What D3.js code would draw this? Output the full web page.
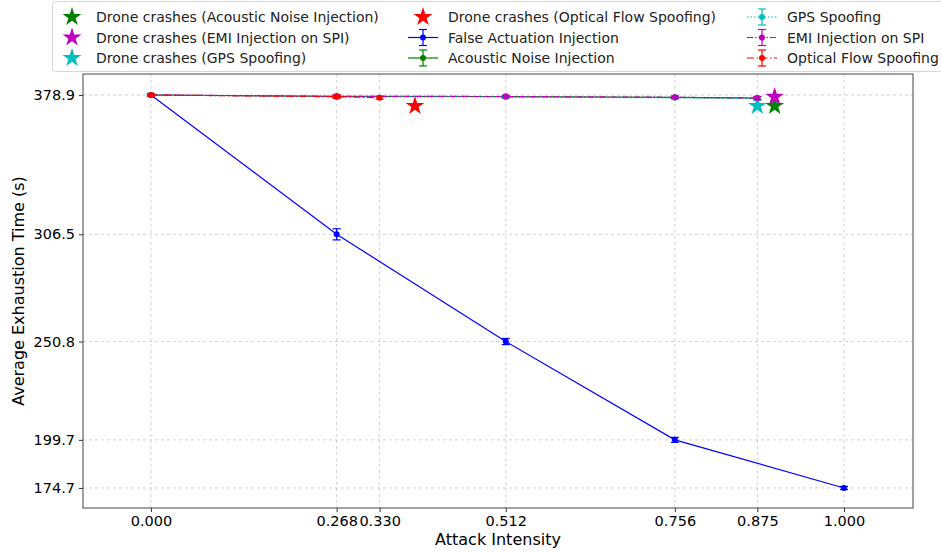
<!DOCTYPE html>
<html>
<head>
<meta charset="utf-8">
<script src="https://cdn.jsdelivr.net/npm/d3@7"></script>
<style>
  html, body { margin: 0; padding: 0; background: #fff; }
  svg { display: block; font-family: "DejaVu Sans", sans-serif; }
</style>
</head>
<body>
<svg id="chart" width="941" height="552"></svg>
<script>
// Attack intensity levels used on the x axis
const xTicks = [0.000, 0.268, 0.330, 0.512, 0.756, 0.875, 1.000];
const yTicks = [378.9, 306.5, 250.8, 199.7, 174.7];

// Average exhaustion time (s) per attack, with standard error
const falseActX = [0.000, 0.268, 0.512, 0.756, 1.000];
const falseActY = [378.9, 306.5, 250.8, 199.7, 174.7];
const falseActErr = [0.6, 2.9, 1.6, 1.3, 0.8];

const acousticX = [0.000, 0.268, 0.512, 0.756, 0.875];
const acousticY = [378.9, 378.2, 378.1, 377.7, 377.3];
const acousticErr = [0.5, 0.7, 0.6, 0.6, 0.8];

const gpsX = [0.000, 0.268, 0.512, 0.756, 0.875];
const gpsY = [378.9, 378.0, 377.8, 377.4, 377.0];
const gpsErr = [0.5, 0.7, 0.6, 0.6, 0.8];

const emiX = [0.000, 0.268, 0.512, 0.756, 0.875];
const emiY = [378.9, 378.2, 378.1, 377.7, 377.3];
const emiErr = [0.5, 0.7, 0.6, 0.6, 0.8];

const opticalX = [0.000, 0.268, 0.330];
const opticalY = [378.9, 378.0, 377.5];
const opticalErr = [0.6, 0.8, 0.8];

// Points where the drone crashed under each attack
const crashAcoustic = [0.900, 373.2];
const crashEmi = [0.900, 377.9];
const crashGps = [0.875, 373.2];
const crashOptical = [0.381, 373.2];

const svg = d3.select("#chart");
const plot = { left: 83, right: 913, top: 74, bottom: 508 };

const x = d3.scaleLinear().domain([-0.098, 1.0996]).range([plot.left, plot.right]);
const y = d3.scaleLinear().domain([164.3, 389.8]).range([plot.bottom, plot.top]);

// grid
const grid = svg.append("g");
grid.selectAll("line.gx").data(xTicks).enter().append("line")
  .attr("x1", d => x(d)).attr("x2", d => x(d))
  .attr("y1", plot.top).attr("y2", plot.bottom)
  .attr("stroke", "#b0b0b0").attr("stroke-width", 0.8)
  .attr("stroke-dasharray", "3,3").attr("opacity", 0.7);
grid.selectAll("line.gy").data(yTicks).enter().append("line")
  .attr("x1", plot.left).attr("x2", plot.right)
  .attr("y1", d => y(d)).attr("y2", d => y(d))
  .attr("stroke", "#b0b0b0").attr("stroke-width", 0.8)
  .attr("stroke-dasharray", "3,3").attr("opacity", 0.7);

// axes
const xAxis = d3.axisBottom(x).tickValues(xTicks).tickFormat(d3.format(".3f")).tickSize(4).tickPadding(4);
const yAxis = d3.axisLeft(y).tickValues(yTicks).tickFormat(d3.format(".1f")).tickSize(4).tickPadding(4);

const gx = svg.append("g").attr("transform", `translate(0,${plot.bottom})`).call(xAxis);
const gy = svg.append("g").attr("transform", `translate(${plot.left},0)`).call(yAxis);
[gx, gy].forEach(g => {
  g.select(".domain").remove();
  g.selectAll("text").attr("font-size", 14.5).attr("fill", "#000").attr("font-family", "DejaVu Sans");
  g.selectAll("line").attr("stroke", "#333");
});

// plot frame
svg.append("rect")
  .attr("x", plot.left).attr("y", plot.top)
  .attr("width", plot.right - plot.left).attr("height", plot.bottom - plot.top)
  .attr("fill", "none").attr("stroke", "#444").attr("stroke-width", 1);

// axis titles
svg.append("text").attr("x", (plot.left + plot.right) / 2).attr("y", 545)
  .attr("text-anchor", "middle").attr("font-size", 16).text("Attack Intensity");
svg.append("text")
  .attr("transform", `translate(24,${(plot.top + plot.bottom) / 2}) rotate(-90)`)
  .attr("text-anchor", "middle").attr("font-size", 16).text("Average Exhaustion Time (s)");

const series = [
  { name: "False Actuation Injection", xs: falseActX, ys: falseActY, err: falseActErr, color: "#0000ff", dash: null },
  { name: "Acoustic Noise Injection", xs: acousticX, ys: acousticY, err: acousticErr, color: "#008000", dash: null },
  { name: "GPS Spoofing", xs: gpsX, ys: gpsY, err: gpsErr, color: "#00bfbf", dash: "1.5,2" },
  { name: "EMI Injection on SPI", xs: emiX, ys: emiY, err: emiErr, color: "#bf00bf", dash: "6,2,1.5,2" },
  { name: "Optical Flow Spoofing", xs: opticalX, ys: opticalY, err: opticalErr, color: "#ff0000", dash: "7,2.5,1.5,2.5" }
];

const crashes = [
  { name: "Drone crashes (Acoustic Noise Injection)", pt: crashAcoustic, color: "#008000" },
  { name: "Drone crashes (EMI Injection on SPI)", pt: crashEmi, color: "#bf00bf" },
  { name: "Drone crashes (GPS Spoofing)", pt: crashGps, color: "#00bfbf" },
  { name: "Drone crashes (Optical Flow Spoofing)", pt: crashOptical, color: "#ff0000" }
];

const star = d3.symbol().type(d3.symbolStar).size(110);
const line = d3.line().x(d => x(d[0])).y(d => y(d[1]));

const marks = svg.append("g");
crashes.forEach(c => {
  marks.append("path").attr("d", star)
    .attr("transform", `translate(${x(c.pt[0])},${y(c.pt[1])})`)
    .attr("fill", c.color);
});

series.forEach(s => {
  const g = marks.append("g");
  const pts = s.xs.map((v, i) => [v, s.ys[i], s.err[i]]);
  g.append("path").attr("d", line(pts))
    .attr("fill", "none").attr("stroke", s.color).attr("stroke-width", 1.2)
    .attr("stroke-dasharray", s.dash);
  const eb = g.selectAll("g.eb").data(pts).enter().append("g");
  eb.append("line")
    .attr("x1", d => x(d[0])).attr("x2", d => x(d[0]))
    .attr("y1", d => y(d[1] - d[2])).attr("y2", d => y(d[1] + d[2]))
    .attr("stroke", s.color).attr("stroke-width", 1.2);
  [-1, 1].forEach(sg => {
    eb.append("line")
      .attr("x1", d => x(d[0]) - 4).attr("x2", d => x(d[0]) + 4)
      .attr("y1", d => y(d[1] + sg * d[2])).attr("y2", d => y(d[1] + sg * d[2]))
      .attr("stroke", s.color).attr("stroke-width", 1.2);
  });
  eb.append("circle").attr("cx", d => x(d[0])).attr("cy", d => y(d[1]))
    .attr("r", 3).attr("fill", s.color);
});

// legend
const legend = svg.append("g");
legend.append("rect").attr("x", 52.5).attr("y", 1.5).attr("width", 900).attr("height", 70)
  .attr("rx", 3).attr("fill", "#fff").attr("fill-opacity", 0.8)
  .attr("stroke", "#d6d6d6").attr("stroke-width", 1);

const entries = [
  ...crashes.map(c => ({ kind: "star", name: c.name, color: c.color })),
  ...series.map(s => ({ kind: "err", name: s.name, color: s.color, dash: s.dash }))
];
const colMark = [72, 423, 762];
const colText = [96, 448, 787];
const rowY = [17, 37.5, 58];
entries.forEach((e, i) => {
  const col = Math.floor(i / 3), row = i % 3;
  const cx = colMark[col], cy = rowY[row];
  const g = legend.append("g");
  if (e.kind === "star") {
    g.append("path").attr("d", star).attr("transform", `translate(${cx},${cy})`).attr("fill", e.color);
  } else {
    g.append("line").attr("x1", cx - 15).attr("x2", cx + 15).attr("y1", cy).attr("y2", cy)
      .attr("stroke", e.color).attr("stroke-width", 1.2).attr("stroke-dasharray", e.dash);
    g.append("line").attr("x1", cx).attr("x2", cx).attr("y1", cy - 8).attr("y2", cy + 8)
      .attr("stroke", e.color).attr("stroke-width", 1.2);
    [-8, 8].forEach(o => g.append("line").attr("x1", cx - 4).attr("x2", cx + 4)
      .attr("y1", cy + o).attr("y2", cy + o).attr("stroke", e.color).attr("stroke-width", 1.2));
    g.append("circle").attr("cx", cx).attr("cy", cy).attr("r", 3).attr("fill", e.color);
  }
  g.append("text").attr("x", colText[col]).attr("y", cy).attr("dy", "0.36em")
    .attr("font-size", 14).attr("fill", "#222").text(e.name);
});
</script>
</body>
</html>
